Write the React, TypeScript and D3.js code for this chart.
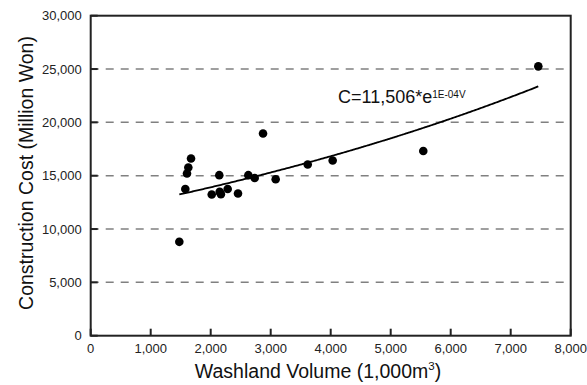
import React from "react";
import * as d3 from "d3";

// washland volume (1,000 m3) and construction cost (million won)
const volume = [1477, 1577, 1605, 1627, 1672, 2017, 2143, 2150, 2170, 2283, 2455, 2627, 2733, 2872, 3083, 3617, 4033, 5543, 7460];
const cost = [8800, 13760, 15210, 15770, 16610, 13240, 15050, 13480, 13270, 13760, 13330, 15050, 14790, 18950, 14670, 16050, 16420, 17320, 25250];

// exponential fit C = a * e^(kV)
const fitA = 11506;
const fitK = 0.000095;

const xTicks = [0, 1000, 2000, 3000, 4000, 5000, 6000, 7000, 8000];
const yTicks = [0, 5000, 10000, 15000, 20000, 25000, 30000];
const gridTicks = [5000, 10000, 15000, 20000, 25000];

const W = 587;
const H = 385;
const left = 90.7, right = 570.7, top = 15.7, bottom = 335.7;
const font = "'Liberation Sans', Arial, sans-serif";

const App = () => {
	const x = d3.scaleLinear().domain([0, 8000]).range([left, right]);
	const y = d3.scaleLinear().domain([0, 30000]).range([bottom, top]);
	const fmt = d3.format(",");

	const vMin = d3.min(volume) as number;
	const vMax = d3.max(volume) as number;
	const curveV = d3.range(vMin, vMax, 20).concat([vMax]);
	const line = d3.line<number>()
		.x(v => x(v))
		.y(v => y(fitA * Math.exp(fitK * v)));

	return (
		<svg width={W} height={H} style={{ position: "absolute", left: 0, top: 0 }} fontFamily={font}>
			<rect width={W} height={H} fill="#fff" />

			{/* grid */}
			{gridTicks.map(t => (
				<line key={"g" + t} x1={left} x2={right} y1={y(t)} y2={y(t)}
					stroke="#808080" strokeWidth={1.5} strokeDasharray="8,7" />
			))}

			{/* ticks */}
			{yTicks.map(t => (
				<g key={"y" + t}>
					<line x1={left} x2={left + 7} y1={y(t)} y2={y(t)} stroke="#222" strokeWidth={2} />
					<text x={left - 9} y={y(t)} dy="0.35em" textAnchor="end" fontSize={13} fill="#222">{fmt(t)}</text>
				</g>
			))}
			{xTicks.map(t => (
				<g key={"x" + t}>
					<line x1={x(t)} x2={x(t)} y1={bottom} y2={bottom - 7} stroke="#222" strokeWidth={2} />
					<text x={x(t)} y={bottom + 17} textAnchor="middle" fontSize={13} fill="#222">{fmt(t)}</text>
				</g>
			))}

			<rect x={left} y={top} width={right - left} height={bottom - top} fill="none" stroke="#222" strokeWidth={2} />

			{/* trend */}
			<path d={line(curveV) || ""} fill="none" stroke="#000" strokeWidth={1.8} />

			{/* points */}
			{volume.map((v, i) => (
				<circle key={"p" + i} cx={x(v)} cy={y(cost[i])} r={4.3} fill="#000" />
			))}

			<text x={338} y={102.5} fontSize={18} fill="#111">
				C=11,506*e<tspan fontSize={10} dy={-4.5}>1E-04V</tspan>
			</text>

			<text transform={`translate(33, 173) rotate(-90)`} textAnchor="middle" fontSize={19.5} fill="#111">
				Construction Cost (Million Won)
			</text>
			<text x={318} y={378} textAnchor="middle" fontSize={19.5} fill="#111">
				Washland Volume (1,000m<tspan fontSize={11.5} dy={-8}>3</tspan><tspan dy={8}>)</tspan>
			</text>
		</svg>
	);
};

export default App;
